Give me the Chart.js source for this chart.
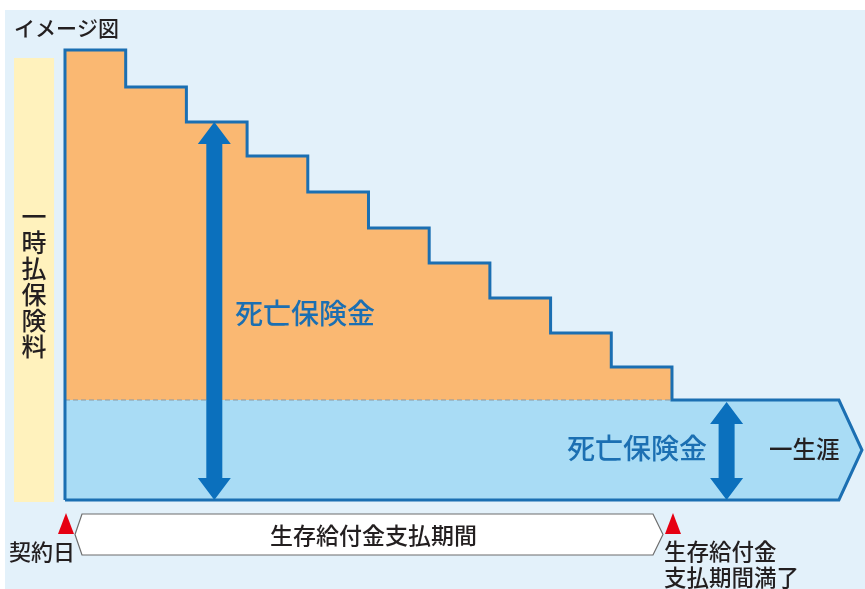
<!DOCTYPE html>
<html lang="ja">
<head>
  <meta charset="UTF-8" />
  <title>イメージ図</title>
  <script src="https://cdn.jsdelivr.net/npm/chart.js"></script>
  <style>
    body {
      margin: 0;
      background: #ffffff;
      font-family: "Noto Sans CJK JP", sans-serif;
    }
    .wrap {
      position: relative;
      width: 865px;
      height: 589px;
      overflow: hidden;
    }
    .bg {
      position: absolute;
      left: 5px;
      top: 10px;
      right: 0;
      bottom: 0;
      background: #e3f1fa;
    }
    canvas {
      position: absolute;
      left: 0;
      top: 0;
    }
  </style>
</head>
<body>
  <div class="wrap">
    <div class="bg"></div>
    <canvas id="chart" width="865" height="589"></canvas>
  </div>

  <script>
    // 死亡保険金（年ごとの段階、払込10年）
    const years = [0, 1, 2, 3, 4, 5, 6, 7, 8, 9, 10];
    const deathBenefit = [4.50, 4.13, 3.78, 3.44, 3.08, 2.72, 2.37, 2.02, 1.67, 1.33];
    const lifetimeBenefit = 1.0;   // 一生涯の死亡保険金
    const premium = 4.42;          // 一時払保険料
    const lifetimeEnd = 12.75;     // 帯の右端
    const arrowYear = 2;           // 矢印を置く年

    const FONT = '"Noto Sans CJK JP", sans-serif';
    const BLUE = '#1b6fb2';
    const ARROW = '#0b70bd';

    // 段階部分（オレンジ）
    const stepShape = [{ x: 0, y: lifetimeBenefit }];
    deathBenefit.forEach((v, i) => {
      stepShape.push({ x: years[i], y: v });
      stepShape.push({ x: years[i + 1], y: v });
    });
    stepShape.push({ x: years[years.length - 1], y: lifetimeBenefit });

    // 一生涯の帯（水色）
    const tip = lifetimeEnd + 0.38;
    const band = [
      { x: 0, y: 0 },
      { x: 0, y: lifetimeBenefit },
      { x: lifetimeEnd, y: lifetimeBenefit },
      { x: tip, y: lifetimeBenefit / 2 },
      { x: lifetimeEnd, y: 0 }
    ];

    // 外枠
    const outline = [{ x: 0, y: 0 }].concat(stepShape.slice(1), [
      { x: lifetimeEnd, y: lifetimeBenefit },
      { x: tip, y: lifetimeBenefit / 2 },
      { x: lifetimeEnd, y: 0 },
      { x: 0, y: 0 }
    ]);

    const premiumBar = [
      { x: -0.84, y: -0.02 },
      { x: -0.84, y: premium },
      { x: -0.18, y: premium },
      { x: -0.18, y: -0.02 }
    ];

    function drawArrow(ctx, x, yTop, yBottom) {
      const shaft = 8, head = 16.5, headH = 22;
      ctx.beginPath();
      ctx.moveTo(x, yTop);
      ctx.lineTo(x + head, yTop + headH);
      ctx.lineTo(x + shaft, yTop + headH);
      ctx.lineTo(x + shaft, yBottom - headH);
      ctx.lineTo(x + head, yBottom - headH);
      ctx.lineTo(x, yBottom);
      ctx.lineTo(x - head, yBottom - headH);
      ctx.lineTo(x - shaft, yBottom - headH);
      ctx.lineTo(x - shaft, yTop + headH);
      ctx.lineTo(x - head, yTop + headH);
      ctx.closePath();
      ctx.fillStyle = ARROW;
      ctx.fill();
    }

    function drawMarker(ctx, x, base) {
      ctx.beginPath();
      ctx.moveTo(x, base + 13);
      ctx.lineTo(x + 8, base + 34);
      ctx.lineTo(x - 8, base + 34);
      ctx.closePath();
      ctx.fillStyle = '#e60012';
      ctx.fill();
    }

    const annotations = {
      id: 'annotations',
      afterDatasetsDraw(chart) {
        const ctx = chart.ctx;
        const xs = chart.scales.x, ys = chart.scales.y;
        const x0 = xs.getPixelForValue(0);
        const xEnd = xs.getPixelForValue(years[years.length - 1]);
        const y0 = ys.getPixelForValue(0);
        ctx.save();

        // 矢印
        drawArrow(ctx, xs.getPixelForValue(arrowYear + 0.46),
          ys.getPixelForValue(deathBenefit[arrowYear]), y0);
        drawArrow(ctx, xs.getPixelForValue(10.9),
          ys.getPixelForValue(lifetimeBenefit) + 2, y0);

        // 支払期間の帯
        const top = y0 + 14, bot = y0 + 55, mid = (top + bot) / 2;
        ctx.beginPath();
        ctx.moveTo(x0 + 10, mid);
        ctx.lineTo(x0 + 17, top);
        ctx.lineTo(xEnd - 19, top);
        ctx.lineTo(xEnd - 9, mid);
        ctx.lineTo(xEnd - 19, bot);
        ctx.lineTo(x0 + 17, bot);
        ctx.closePath();
        ctx.fillStyle = '#ffffff';
        ctx.fill();
        ctx.strokeStyle = '#6d6d6d';
        ctx.lineWidth = 1.2;
        ctx.stroke();

        drawMarker(ctx, x0 + 1, y0);
        drawMarker(ctx, xEnd + 1, y0);

        // 文字
        ctx.textBaseline = 'middle';
        ctx.fillStyle = BLUE;
        ctx.font = '500 28px ' + FONT;
        ctx.textAlign = 'left';
        ctx.fillText('死亡保険金', 235, ys.getPixelForValue(1.87));
        ctx.fillText('死亡保険金', 567, ys.getPixelForValue(lifetimeBenefit / 2) - 2);

        ctx.fillStyle = '#231f20';
        ctx.font = '500 23.5px ' + FONT;
        ctx.fillText('一生涯', 769, ys.getPixelForValue(lifetimeBenefit / 2) - 1);

        ctx.font = '500 23px ' + FONT;
        ctx.textAlign = 'center';
        ctx.fillText('生存給付金支払期間', (x0 + xEnd) / 2 + 5, mid + 1);

        ctx.font = '500 22px ' + FONT;
        ctx.textAlign = 'left';
        ctx.fillText('契約日', 9, y0 + 52);
        ctx.font = '500 22.5px ' + FONT;
        ctx.fillText('生存給付金', xEnd - 8, y0 + 51);
        ctx.fillText('支払期間満了', xEnd - 8, y0 + 77);

        ctx.font = '500 21px ' + FONT;
        ctx.fillText('イメージ図', 14, 28);

        // 縦書き
        ctx.font = '500 25px ' + FONT;
        ctx.textAlign = 'center';
        const vx = (xs.getPixelForValue(-0.84) + xs.getPixelForValue(-0.18)) / 2;
        Array.from('一時払保険料').forEach((ch, i) => {
          ctx.fillText(ch, vx, 216 + i * 26);
        });
        ctx.restore();
      }
    };

    const poly = (data, color, order) => ({
      data,
      order,
      fill: 'shape',
      backgroundColor: color,
      borderWidth: 0,
      pointRadius: 0,
      tension: 0
    });

    new Chart(document.getElementById('chart'), {
      type: 'line',
      data: {
        datasets: [
          poly(premiumBar, '#fff2bd', 5),
          poly(band, '#a9dcf5', 4),
          poly(stepShape, '#fab872', 3),
          {
            data: [{ x: 0, y: lifetimeBenefit }, { x: years[years.length - 1], y: lifetimeBenefit }],
            order: 2,
            fill: false,
            borderColor: '#8b99a3',
            borderWidth: 1,
            borderDash: [5, 3],
            pointRadius: 0
          },
          {
            data: outline,
            order: 1,
            fill: false,
            borderColor: BLUE,
            borderWidth: 3,
            borderJoinStyle: 'miter',
            pointRadius: 0,
            tension: 0
          }
        ]
      },
      options: {
        responsive: false,
        animation: false,
        layout: { padding: 0 },
        scales: {
          x: { type: 'linear', min: -1.0708, max: 13.18, display: false },
          y: { type: 'linear', min: -0.89, max: 5.0, display: false }
        },
        plugins: {
          legend: { display: false },
          tooltip: { enabled: false }
        }
      },
      plugins: [annotations]
    });
  </script>
</body>
</html>
